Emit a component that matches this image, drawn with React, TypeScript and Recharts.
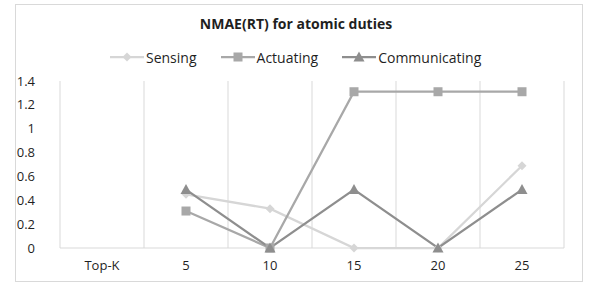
import React from "react";
import { LineChart, Line, XAxis, YAxis, CartesianGrid } from "recharts";

// ─── Data ─────────────────────────────────────────────────────────────
const categories = ["Top-K", "5", "10", "15", "20", "25"];
const sensing = [null, 0.45, 0.33, 0, 0, 0.69];
const actuating = [null, 0.31, 0, 1.31, 1.31, 1.31];
const communicating = [null, 0.49, 0, 0.49, 0, 0.49];
const yTicks = [0, 0.2, 0.4, 0.6, 0.8, 1, 1.2, 1.4];

const FONT = "'Open Sans', sans-serif";
const COLORS = {
  sensing: "#d6d6d6",
  actuating: "#a8a8a8",
  communicating: "#8e8e8e",
  grid: "#d9d9d9",
  text: "#1f1f1f",
};

const data = categories.map((k, i) => ({
  k,
  sensing: sensing[i],
  actuating: actuating[i],
  communicating: communicating[i],
}));

type Shape = "diamond" | "square" | "triangle";

function Marker({ shape, x, y, color }: { shape: Shape; x: number; y: number; color: string }) {
  if (shape === "diamond") {
    const r = 4.5;
    return <polygon points={`${x},${y - r} ${x + r},${y} ${x},${y + r} ${x - r},${y}`} fill={color} />;
  }
  if (shape === "square") {
    const r = 4.5;
    return <rect x={x - r} y={y - r} width={r * 2} height={r * 2} fill={color} />;
  }
  const r = 5.5;
  return <polygon points={`${x},${y - r} ${x + r},${y + r * 0.8} ${x - r},${y + r * 0.8}`} fill={color} />;
}

const series: { key: string; name: string; color: string; shape: Shape }[] = [
  { key: "sensing", name: "Sensing", color: COLORS.sensing, shape: "diamond" },
  { key: "actuating", name: "Actuating", color: COLORS.actuating, shape: "square" },
  { key: "communicating", name: "Communicating", color: COLORS.communicating, shape: "triangle" },
];

function LegendRow() {
  return (
    <div style={{ position: "absolute", top: 47, left: 110, display: "flex", gap: 24, fontFamily: FONT, fontSize: 14, color: COLORS.text }}>
      {series.map((s) => (
        <div key={s.key} style={{ display: "flex", alignItems: "center" }}>
          <svg width={34} height={20}>
            <line x1={0} y1={10} x2={34} y2={10} stroke={s.color} strokeWidth={2.25} />
            <Marker shape={s.shape} x={17} y={10} color={s.color} />
          </svg>
          <span style={{ marginLeft: 2 }}>{s.name}</span>
        </div>
      ))}
    </div>
  );
}

export default function App() {
  return (
    <div style={{ position: "absolute", left: 0, top: 0, width: 592, height: 284, background: "#fff" }}>
      <div style={{ position: "absolute", left: 15, top: 4, width: 566, height: 276, border: `1px solid ${COLORS.grid}` }} />
      <div style={{ position: "absolute", top: 14, left: 0, width: 592, textAlign: "center", fontFamily: FONT, fontWeight: 700, fontSize: 14, color: COLORS.text }}>
        NMAE(RT) for atomic duties
      </div>
      <LegendRow />
      <div style={{ position: "absolute", left: 0, top: 0 }}>
        <LineChart width={592} height={284} data={data} margin={{ top: 81, right: 28, bottom: 0, left: 0 }}>
          <CartesianGrid
            horizontal={false}
            stroke={COLORS.grid}
            verticalCoordinatesGenerator={({ offset }: any) =>
              categories.concat([""]).map((_, i) => offset.left + (i * offset.width) / categories.length)
            }
          />
          <XAxis
            dataKey="k"
            scale="band"
            height={36}
            tickLine={false}
            axisLine={{ stroke: COLORS.grid }}
            tick={{ fill: COLORS.text, fontSize: 13, fontFamily: FONT }}
            tickMargin={7}
          />
          <YAxis
            width={60}
            domain={[0, 1.4]}
            ticks={yTicks}
            axisLine={false}
            tickLine={false}
            tick={{ fill: COLORS.text, fontSize: 13, fontFamily: FONT }}
            tickMargin={19}
          />
          {series.map((s) => (
            <Line
              key={s.key}
              dataKey={s.key}
              name={s.name}
              stroke={s.color}
              strokeWidth={2.25}
              isAnimationActive={false}
              dot={(p: any) =>
                p.value == null ? <g key={p.index} /> : <Marker key={p.index} shape={s.shape} x={p.cx} y={p.cy} color={s.color} />
              }
              activeDot={false}
            />
          ))}
        </LineChart>
      </div>
    </div>
  );
}
